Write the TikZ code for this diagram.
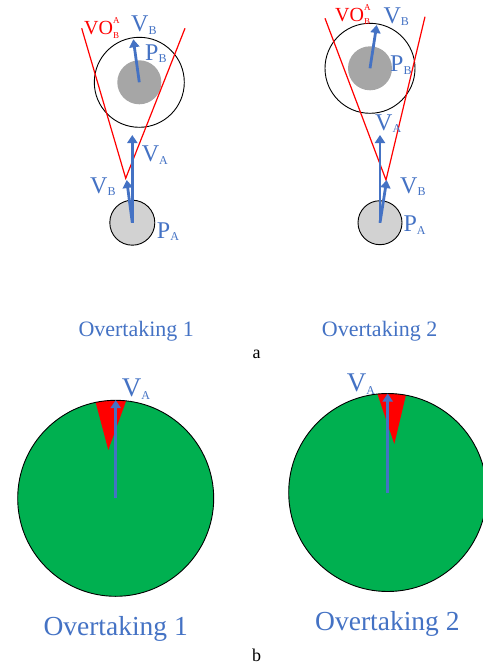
\documentclass[tikz,border=0pt]{standalone}
\usepackage{fontspec}
\setmainfont{Liberation Serif}
\usetikzlibrary{arrows.meta}
\definecolor{vblue}{RGB}{68,114,196}
\definecolor{vored}{RGB}{255,0,0}
\definecolor{freegreen}{RGB}{0,176,80}
\definecolor{diskB}{RGB}{166,166,166}
\definecolor{diskA}{RGB}{210,210,210}
\newcommand{\lsub}[1]{\raisebox{-0.1em}{\fontsize{12}{12}\selectfont #1}}
\newcommand{\vosym}{VO\rlap{\raisebox{0.55em}{\fontsize{9}{9}\selectfont A}}\raisebox{-0.15em}{\fontsize{9}{9}\selectfont B}}

\begin{document}
\begin{tikzpicture}[x=1pt, y=-1pt, >={Triangle[width=10pt,length=8pt]},
    vel/.style={->, line width=2.8pt, vblue},
    cone/.style={vored, line width=1.2pt},
    ring/.style={line width=0.9pt},
    lab/.style={vblue, inner sep=0pt, anchor=base west, font=\fontsize{24}{24}\selectfont},
    captext/.style={vblue, inner sep=0pt, anchor=base west}]
    \useasboundingbox (0,0) rectangle (482,669);
    % Overtaking 1 (a)
    \coordinate (PA1) at (132.3,222.7);
    \coordinate (PB1) at (139.3,82.3);
    \draw[ring, fill=diskA] (PA1) circle (22.5);
    \fill[diskB] (PB1) circle (22);
    \draw[ring] (PB1) circle (45);
    \coordinate (apex1) at (125.7,178.3);
    \draw[cone] (81.7,28.3) -- (apex1) -- (185,28.3);
    \coordinate (va1) at (132.3,135);
    \coordinate (vb1) at (126.7,180);
    \coordinate (vbB1) at (133.3,39.3);
    \draw[vel] (PA1) -- (va1);
    \draw[vel] (PA1) -- (vb1);
    \draw[vel] (PB1) -- (vbB1);
    \node[vored, inner sep=0pt, anchor=base west, font=\fontsize{20}{20}\selectfont] (vo1) at (84,35) {\vosym};
    \node[lab] (vbt1) at (131,31.7) {V\lsub{B}};
    \node[lab] (pb1) at (145,60) {P\lsub{B}};
    \node[lab] (vat1) at (141.7,161.7) {V\lsub{A}};
    \node[lab] (vbl1) at (90,193.3) {V\lsub{B}};
    \node[lab] (pa1) at (156.7,238.3) {P\lsub{A}};
    % Overtaking 2 (a)
    \coordinate (PA2) at (380,222.7);
    \coordinate (PB2) at (370,68.3);
    \draw[ring, fill=diskA] (PA2) circle (22);
    \fill[diskB] (PB2) circle (22);
    \draw[ring] (PB2) circle (45);
    \coordinate (apex2) at (386,180);
    \draw[cone] (325,18.3) -- (apex2) -- (425,16.7);
    \coordinate (va2) at (380,135);
    \coordinate (vb2) at (386.7,180);
    \coordinate (vbB2) at (376.7,25);
    \draw[vel] (PA2) -- (va2);
    \draw[vel] (PA2) -- (vb2);
    \draw[vel] (PB2) -- (vbB2);
    \node[vored, inner sep=0pt, anchor=base west, font=\fontsize{20}{20}\selectfont] (vo2) at (335,21.7) {\vosym};
    \node[lab] (vbt2) at (383.3,23.3) {V\lsub{B}};
    \node[lab] (pb2) at (390,71.7) {P\lsub{B}};
    \node[lab] (vat2) at (375,130) {V\lsub{A}};
    \node[lab] (vbl2) at (400,193.3) {V\lsub{B}};
    \node[lab] (pa2) at (403.3,231.7) {P\lsub{A}};
    % captions a
    \node[captext, font=\fontsize{22}{22}\selectfont] (capa1) at (78.3,336.5) {Overtaking 1};
    \node[captext, font=\fontsize{22}{22}\selectfont] (capa2) at (321.7,336.5) {Overtaking 2};
    \node[inner sep=0pt, anchor=base, font=\fontsize{18}{18}\selectfont] (suba) at (256.7,358) {a};
    % Overtaking 1 (b)
    \coordinate (C1) at (115.7,498.3);
    \fill[freegreen] (C1) circle (98);
    \begin{scope}
        \clip (C1) circle (98);
        \fill[vored] (108.3,450) -- (91,385) -- (133,382) -- cycle;
    \end{scope}
    \draw[ring] (C1) circle (98);
    \coordinate (w1) at (115.7,400);
    \draw[vel] (C1) -- (w1);
    \node[lab, font=\fontsize{27}{27}\selectfont] (vab1) at (121.7,396.7) {V\lsub{A}};
    % Overtaking 2 (b)
    \coordinate (C2) at (387.7,492.5);
    \fill[freegreen] (C2) circle (99);
    \begin{scope}
        \clip (C2) circle (99);
        \fill[vored] (394.3,444) -- (372,378) -- (410,378) -- cycle;
    \end{scope}
    \draw[ring] (C2) circle (99);
    \coordinate (w2) at (387.7,393.5);
    \draw[vel] (C2) -- (w2);
    \node[lab, font=\fontsize{27}{27}\selectfont] (vab2) at (346.7,391.7) {V\lsub{A}};
    % captions b
    \node[captext, font=\fontsize{27.5}{27.5}\selectfont] (capb1) at (43.3,635) {Overtaking 1};
    \node[captext, font=\fontsize{27.5}{27.5}\selectfont] (capb2) at (315,630) {Overtaking 2};
    \node[inner sep=0pt, anchor=base, font=\fontsize{18}{18}\selectfont] (subb) at (256.7,661.7) {b};
\end{tikzpicture}
\end{document}
